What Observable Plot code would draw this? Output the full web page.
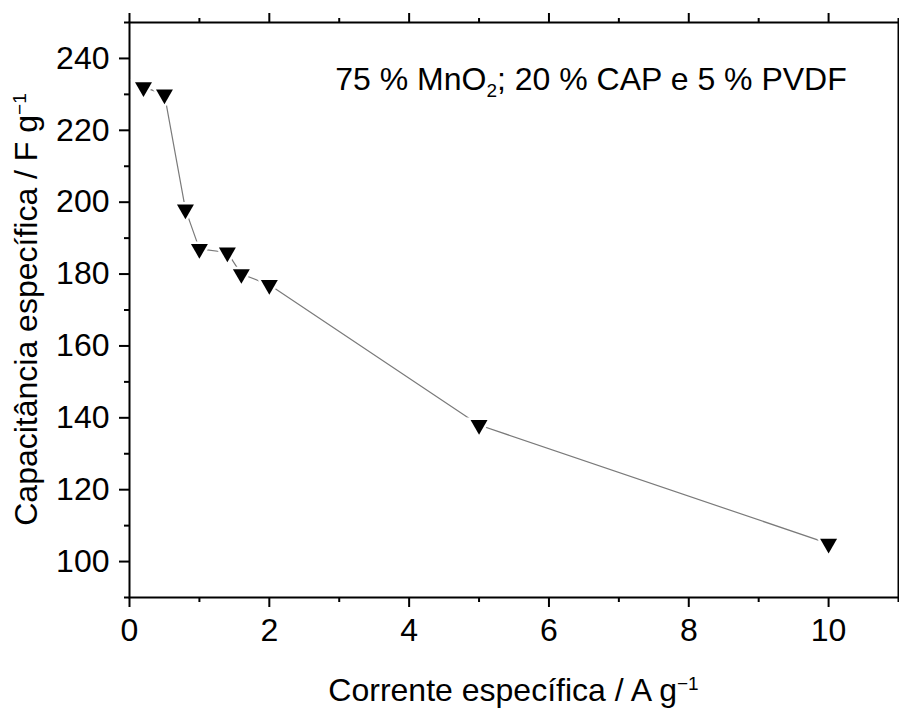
<!DOCTYPE html>
<html>
<head>
<meta charset="utf-8">
<script src="https://cdn.jsdelivr.net/npm/d3@7"></script>
<script src="https://cdn.jsdelivr.net/npm/@observablehq/plot@0.6"></script>
<style>
  html, body { margin: 0; padding: 0; background: white; }
  svg text { font-family: "Liberation Sans", Arial, sans-serif; }
</style>
</head>
<body>
<div id="chart"></div>
<script>
// Data
const currents = [0.2, 0.5, 0.8, 1.0, 1.4, 1.6, 2.0, 5.0, 10.0];      // A g^-1
const capacitance = [232, 230, 198, 187, 186, 180, 177, 138, 105];   // F g^-1

const xTicks = [0, 2, 4, 6, 8, 10];
const xMinorTicks = [1, 3, 5, 7, 9, 11];
const yTicks = [100, 120, 140, 160, 180, 200, 220, 240];
const yMinorTicks = [90, 110, 130, 150, 170, 190, 210, 230, 250];

const xLabel = "Corrente específica / A g";
const yLabel = "Capacitância específica / F g";
const annotationParts = ["75 % MnO", "2", "; 20 % CAP e 5 % PVDF"];

const data = currents.map((c, i) => ({current: c, cap: capacitance[i]}));

const W = 899, H = 708;
const mL = 129, mR = 1, mT = 22, mB = 111;
const font = "32px";

const blank = () => "";

const plot = Plot.plot({
  width: W,
  height: H,
  marginLeft: mL,
  marginRight: mR,
  marginTop: mT,
  marginBottom: mB,
  style: {fontFamily: "'Liberation Sans', Arial, sans-serif", fontSize: font, color: "black", background: "white"},
  x: {domain: [0, 11]},
  y: {domain: [90, 250]},
  marks: [
    Plot.axisX(xTicks, {anchor: "bottom", tickSize: 10, tickPadding: 11, strokeWidth: 2, label: null, fontSize: 32}),
    Plot.axisX(xMinorTicks, {anchor: "bottom", tickSize: 5, strokeWidth: 2, tickFormat: blank, label: null}),
    Plot.axisX(xTicks, {anchor: "top", tickSize: 10, strokeWidth: 2, tickFormat: blank, label: null}),
    Plot.axisX(xMinorTicks, {anchor: "top", tickSize: 5, strokeWidth: 2, tickFormat: blank, label: null}),
    Plot.axisY(yTicks, {anchor: "left", tickSize: 10, tickPadding: 10, strokeWidth: 2, label: null, fontSize: 32}),
    Plot.axisY(yMinorTicks, {anchor: "left", tickSize: 5, strokeWidth: 2, tickFormat: blank, label: null}),
    Plot.frame({stroke: "black", strokeWidth: 2}),
    Plot.line(data, {x: "current", y: "cap", stroke: "#7a7a7a", strokeWidth: 1.2}),
    Plot.dot(data, {x: "current", y: "cap", symbol: "triangle", rotate: 180, r: 9.5, fill: "white", stroke: "none"}),
    Plot.dot(data, {x: "current", y: "cap", symbol: "triangle", rotate: 180, r: 6.3, fill: "black", stroke: "none"})
  ]
});

document.getElementById("chart").appendChild(plot);

const svg = d3.select(plot);
const xs = plot.scale("x"), ys = plot.scale("y");
const cx = (mL + (W - mR)) / 2;
const cy = (mT + (H - mB)) / 2;

// x-axis title
const xt = svg.append("text")
  .attr("x", cx).attr("y", 701)
  .attr("text-anchor", "middle")
  .attr("font-size", 32).attr("fill", "black");
xt.append("tspan").text(xLabel);
xt.append("tspan").attr("font-size", 19).attr("dy", -11).text("\u22121");

// y-axis title
const yt = svg.append("text")
  .attr("transform", `translate(37,${cy}) rotate(-90)`)
  .attr("text-anchor", "middle")
  .attr("font-size", 32).attr("fill", "black");
yt.append("tspan").text(yLabel);
yt.append("tspan").attr("font-size", 19).attr("dy", -11).text("\u22121");

// annotation
const at = svg.append("text")
  .attr("x", xs.apply(2.95)).attr("y", ys.apply(240) + 32)
  .attr("text-anchor", "start")
  .attr("font-size", 32).attr("fill", "black");
at.append("tspan").text(annotationParts[0]);
at.append("tspan").attr("font-size", 19).attr("dy", 7).text(annotationParts[1]);
at.append("tspan").attr("dy", -7).text(annotationParts[2]);
</script>
</body>
</html>
